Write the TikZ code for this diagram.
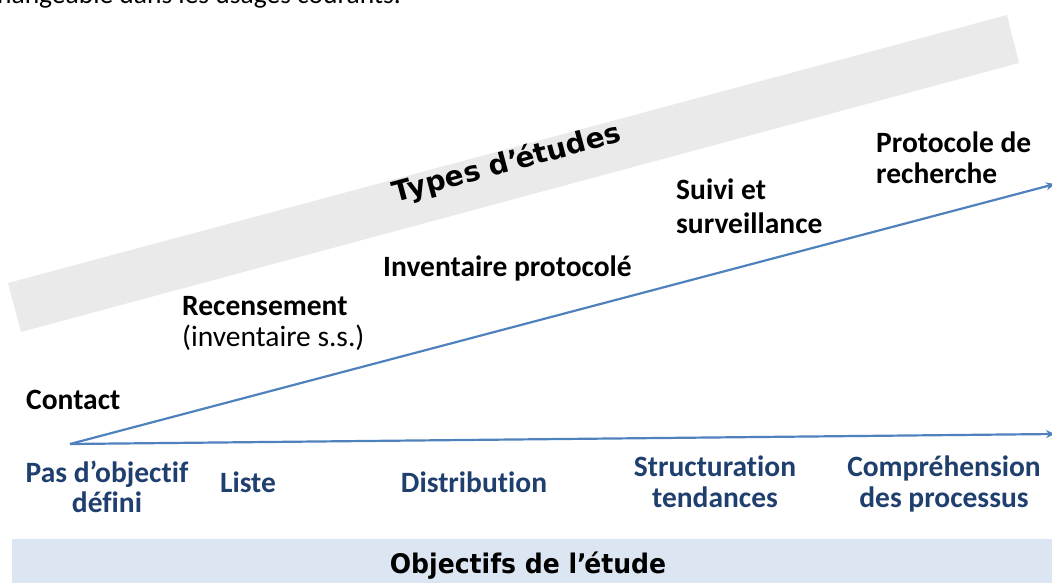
\documentclass[tikz,border=0pt]{standalone}
\usepackage{fontspec}
\setmainfont{Carlito}[Ligatures=NoCommon]
\newfontfamily\verd{DejaVu Sans}
\usetikzlibrary{arrows.meta}
\definecolor{bandgray}{HTML}{EAEAEA}
\definecolor{bandblue}{HTML}{DCE6F2}
\definecolor{lineblue}{HTML}{4F81BD}
\definecolor{txtblue}{HTML}{1F3F6E}
\tikzset{
  typ/.style={font=\fontsize{29.5}{34}\selectfont\bfseries, text=black, inner sep=0pt, anchor=base west},
  obj/.style={font=\fontsize{29.5}{34}\selectfont\bfseries, text=txtblue, inner sep=0pt, anchor=base},
  axis/.style={draw=lineblue, line width=2.2pt, -{Stealth[length=9pt,width=8pt]}}
}
\begin{document}
\begin{tikzpicture}[x=1pt,y=-1pt]
\useasboundingbox (0,0) rectangle (1052,583);
\clip (0,0) rectangle (1052,583);
% cut-off text at top
\node[anchor=base west, inner sep=0pt, font=\fontsize{27.5}{32}\selectfont] (top) at (-3,4) {hangeable dans les usages courants.};
% gray band
\fill[bandgray] (8,283) -- (1007,15) -- (1019,63) -- (21,332) -- cycle;
\node[rotate=15, font=\verd\fontsize{28}{32}\selectfont\bfseries, inner sep=0pt] (types) at (507,164) {Types d’\kern-0.12em études};
% bottom band
\fill[bandblue] (12,539) rectangle (1052,583);
\node[font=\verd\fontsize{27}{32}\selectfont\bfseries, inner sep=0pt, anchor=base, xscale=0.93] (objtitle) at (528,573) {Objectifs de l’\kern-0.1em étude};
% axes
\coordinate (o) at (70,444);
\coordinate (up) at (1055,184);
\coordinate (lo) at (1055,434);
\draw[axis] (o) -- (up);
\draw[axis] (o) -- (lo);
% types labels
\node[typ] (contact) at (26,409) {Contact};
\node[typ] (recens) at (182,315) {Recensement};
\node[anchor=base west, inner sep=0pt, font=\fontsize{29.5}{34}\selectfont] (inv) at (182,346) {(inventaire s.s.)};
\node[typ] (invprot) at (383,276) {Inventaire protocolé};
\node[typ] (suivi) at (676,199) {Suivi et};
\node[typ] (surv) at (676,233) {surveillance};
\node[typ] (proto) at (876,153) {Protocole de};
\node[typ] (rech) at (876,183) {recherche};
% objectives labels
\node[obj] (pas1) at (107,482) {Pas d’objectif};
\node[obj] (pas2) at (107,512) {défini};
\node[obj] (liste) at (248,492) {Liste};
\node[obj] (distr) at (474,492) {Distribution};
\node[obj] (struct1) at (715,476) {Structuration};
\node[obj] (struct2) at (715,507) {tendances};
\node[obj] (compr1) at (944,476) {Compréhension};
\node[obj] (compr2) at (944,507) {des processus};
\end{tikzpicture}
\end{document}
